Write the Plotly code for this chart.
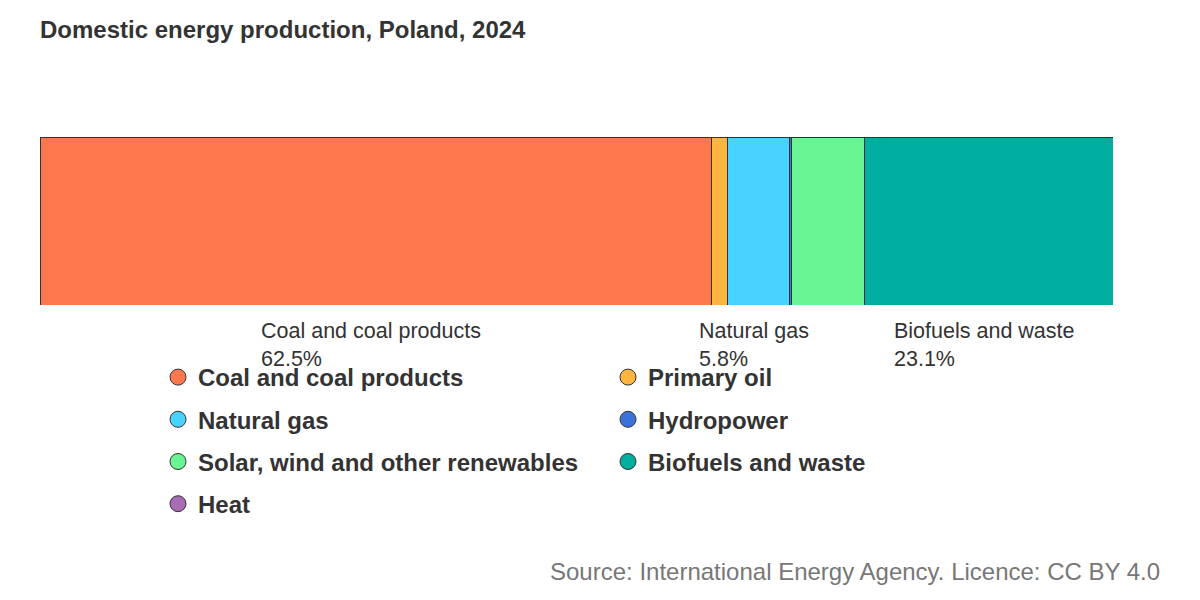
import plotly.graph_objects as graph_objects

SOURCES = ["Coal and coal products", "Primary oil", "Natural gas", "Hydropower",
           "Solar, wind and other renewables", "Biofuels and waste", "Heat"]
SHARES = [62.5, 1.5, 5.8, 0.2, 6.8, 23.1, 0.0]
COLORS = ["#FF774D", "#FDB53F", "#48D2FF", "#3B72D9", "#69F593", "#00AEA0", "#A86BB5"]
LABELLED = ["Coal and coal products", "Natural gas", "Biofuels and waste"]

TEXT = "#333333"
FONT = "Liberation Sans, Arial, sans-serif"

# the page body adds 8px, so positions below are taken off that
OFF = 8

fig = graph_objects.Figure()

# the stacked bar itself
for name, share, color in zip(SOURCES, SHARES, COLORS):
    fig.add_trace(graph_objects.Bar(
        x=[share], y=[0], orientation="h", width=1,
        marker=dict(color=color, line=dict(color="#333333", width=1)),
        name=name, showlegend=False))

# dummy traces so the legend gets round markers
for name, color in zip(SOURCES, COLORS):
    fig.add_trace(graph_objects.Scatter(
        x=[None], y=[None], mode="markers", name=name, legendgroup=name,
        marker=dict(symbol="circle", size=16, color=color,
                    line=dict(color="#333333", width=1))))

# labels under the bigger segments
start = 0
for name, share in zip(SOURCES, SHARES):
    if name in LABELLED:
        fig.add_annotation(
            x=start + share / 2, y=0, xref="x", yref="paper",
            yanchor="top", xanchor="center", align="left", yshift=-12, xshift=-5,
            text=name + "<br>" + str(share) + "%", showarrow=False,
            font=dict(size=21.5, color=TEXT, family=FONT))
    start += share

plot_l, plot_t, plot_w, plot_h = 40 - OFF, 137 - OFF, 1073, 168

fig.add_annotation(
    xref="paper", yref="paper",
    x=(1162 - OFF - plot_l) / plot_w, y=-(571 - OFF - plot_t - plot_h) / plot_h,
    xanchor="right", yanchor="middle", showarrow=False,
    text="Source: International Energy Agency. Licence: CC BY 4.0",
    font=dict(size=24, color="#777777", family=FONT))

fig.update_layout(
    width=1200, height=600,
    barmode="stack",
    plot_bgcolor="white", paper_bgcolor="white",
    margin=dict(l=plot_l, r=1200 - plot_l - plot_w, t=plot_t, b=600 - plot_t - plot_h),
    title=dict(text="<b>Domestic energy production, Poland, 2024</b>",
               x=(40 - OFF) / 1200, xanchor="left", y=1 - (30 - OFF) / 600, yanchor="middle",
               font=dict(size=24, color=TEXT, family=FONT)),
    xaxis=dict(range=[0, sum(SHARES)], visible=False, fixedrange=True),
    yaxis=dict(range=[-0.5, 0.5], visible=False, fixedrange=True),
    legend=dict(orientation="h", xref="container", yref="container",
                x=(158 - OFF) / 1200, y=1 - (355 - OFF) / 600, xanchor="left", yanchor="top",
                entrywidth=405, itemwidth=30, traceorder="grouped", tracegroupgap=8,
                itemclick=False,
                font=dict(size=24, color=TEXT, family=FONT, weight="bold")),
    font=dict(family=FONT, color=TEXT),
)

fig.write_html("out.html")
